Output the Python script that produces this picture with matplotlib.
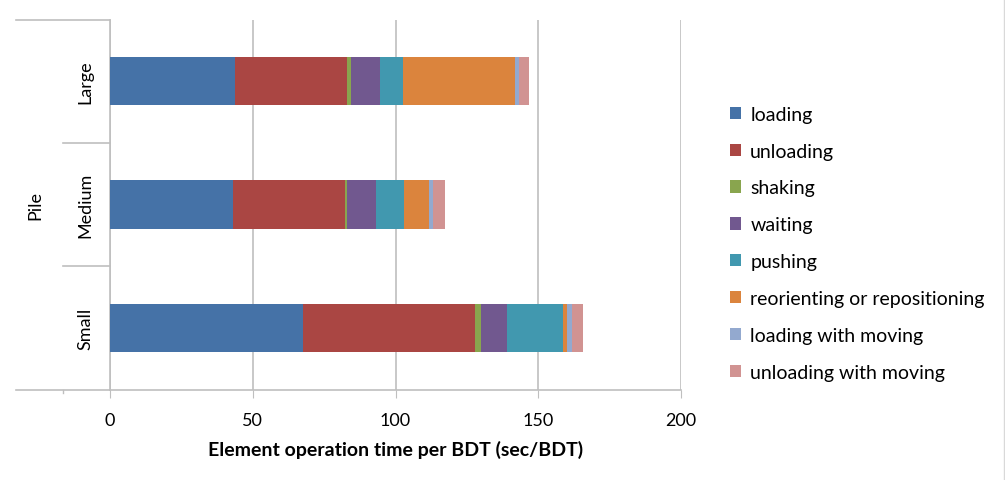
import numpy as np
import matplotlib.pyplot as plt

plt.rcParams["font.family"] = ["Lato", "DejaVu Sans"]

# Datos
piles = ["Small", "Medium", "Large"]
elements = [
    "loading",
    "unloading",
    "shaking",
    "waiting",
    "pushing",
    "reorienting or repositioning",
    "loading with moving",
    "unloading with moving",
]
colors = ["#4572A7", "#AA4643", "#89A54E", "#71588F",
          "#4198AF", "#DB843D", "#93A9CF", "#D19392"]

# segundos por BDT, orden: Small, Medium, Large
loading = [67.5, 43.2, 43.8]
unloading = [60.4, 39.0, 39.2]
shaking = [2.0, 0.8, 1.4]
waiting = [9.3, 10.3, 10.3]
pushing = [19.5, 9.8, 7.8]
reorienting = [1.2, 8.7, 39.3]
loading_moving = [1.9, 1.5, 1.5]
unloading_moving = [3.7, 3.9, 3.4]

series = [loading, unloading, shaking, waiting, pushing,
          reorienting, loading_moving, unloading_moving]

fig = plt.figure(figsize=(10.05, 4.81), dpi=100)
ax = fig.add_axes([110 / 1005, 1 - 390.5 / 481, 571 / 1005, 370 / 481])

grid_c = "#BFBFBF"
y = np.arange(len(piles))
left = np.zeros(len(piles))
for name, vals, c in zip(elements, series, colors):
    ax.barh(y, vals, left=left, height=0.39, color=c, label=name,
            edgecolor="none", zorder=3)
    left += np.array(vals)

ax.set_xlim(0, 200)
ax.set_ylim(-0.5, 2.5)
ax.set_xticks([0, 50, 100, 150, 200])
ax.tick_params(axis="x", length=6, color=grid_c, labelsize=13, pad=10)
ax.set_yticks([])
ax.grid(axis="x", color=grid_c, linewidth=1.2, zorder=0)
for s in ["top", "right"]:
    ax.spines[s].set_visible(False)
ax.spines["left"].set_color(grid_c)
ax.spines["bottom"].set_color(grid_c)
ax.spines["left"].set_linewidth(1.2)
ax.spines["bottom"].set_linewidth(1.2)

ax.set_xlabel("Element operation time per BDT (sec/BDT)",
              fontsize=14, fontweight="bold", labelpad=9)

# marco de categorías a la izquierda
trans = ax.get_yaxis_transform()
x_out = -94 / 571
x_sep = -47 / 571
ax.plot([x_out, 0], [2.5, 2.5], color=grid_c, lw=1.2, transform=trans, clip_on=False)
ax.plot([x_out, 0], [-0.5, -0.5], color=grid_c, lw=1.2, transform=trans, clip_on=False)
for yy in [0.5, 1.5]:
    ax.plot([x_sep, 0], [yy, yy], color=grid_c, lw=1.2, transform=trans, clip_on=False)
ax.plot([x_sep, x_sep], [-0.5, -0.53], color=grid_c, lw=1, transform=trans, clip_on=False)

for i, p in enumerate(piles):
    ax.text(-25 / 571, i, p, rotation=90, ha="center", va="center",
            fontsize=13, transform=trans)
ax.text(-75 / 571, 1, "Pile", rotation=90, ha="center", va="center",
        fontsize=13, transform=trans)

fig.legend(loc="upper left", bbox_to_anchor=(722 / 1005, 1 - 99 / 481),
           frameon=False, fontsize=14, handlelength=0.6, handleheight=0.6,
           handletextpad=0.45, labelspacing=1.02, borderaxespad=0)

fig.add_artist(plt.Line2D([1004 / 1005, 1004 / 1005], [0, 0.997],
                          color="#D9D9D9", lw=1))

fig.savefig("out.png", dpi=100)
